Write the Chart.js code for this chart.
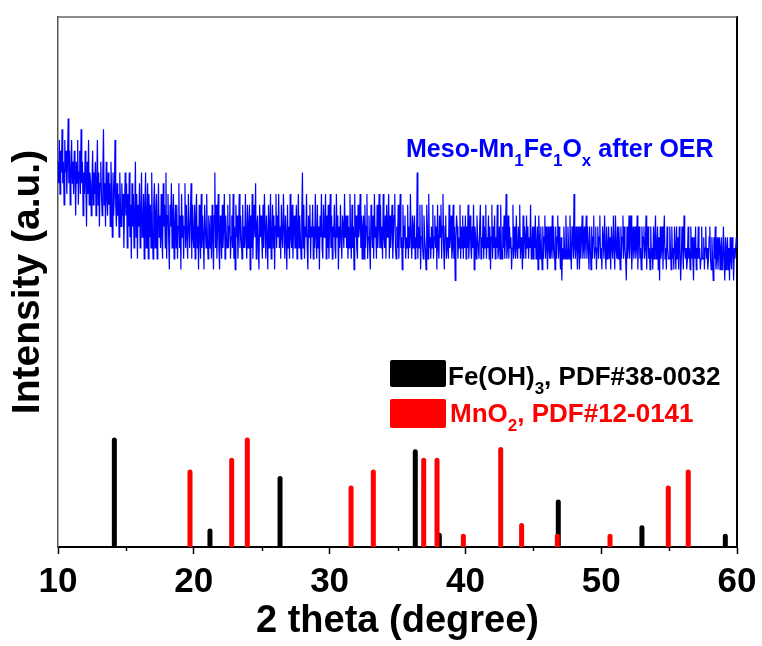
<!DOCTYPE html>
<html><head><meta charset="utf-8">
<script src="https://cdn.jsdelivr.net/npm/chart.js@4.4.0/dist/chart.umd.min.js"></script>
<style>html,body{margin:0;padding:0;background:#fff;overflow:hidden}#wrap{width:762px;height:646px}</style>
</head><body><div id="wrap"><canvas id="c" width="762" height="646"></canvas></div>
<script>
// ---- data ----
const twoThetaStart = 10;   // degrees
const twoThetaStep = 0.05;  // degrees per point
const intensity = [
36,34,38,33,37,35,39,34,36,32,38,35,37,33,36,40,34,37,32,35,38,34,36,33,37,
35,31,36,34,38,32,35,37,33,39,34,36,31,35,33,37,34,30,36,33,38,32,35,34,31,
34,37,32,35,33,36,31,34,38,32,35,30,34,36,33,31,35,39,32,34,30,36,33,31,35,
32,34,30,36,33,29,35,31,33,38,32,30,34,31,33,29,35,32,30,34,31,33,28,32,35,
31,34,28,33,30,35,29,32,27,34,30,33,28,31,36,29,33,27,32,30,34,28,31,35,29,
30,33,27,32,35,28,31,34,27,33,29,32,28,35,30,27,32,34,28,31,33,27,30,34,29,
31,28,33,29,27,34,30,32,28,35,27,31,33,29,26,32,30,34,28,31,33,27,30,32,28,
32,27,30,34,28,31,26,33,29,31,27,30,34,28,32,29,27,33,30,28,31,34,27,32,29,
28,32,27,31,33,28,30,26,32,29,27,33,28,31,29,26,32,30,28,33,29,27,31,30,28,
31,27,32,29,26,31,35,28,32,27,30,33,28,26,31,29,27,32,28,30,33,27,31,29,28,
32,28,30,33,27,29,31,28,33,27,30,26,32,29,31,27,30,33,28,31,29,27,32,28,30,
28,33,29,27,32,28,30,32,26,31,28,33,27,30,32,29,34,27,30,31,28,26,32,29,31,
29,27,32,28,33,30,27,31,29,26,32,28,30,33,27,29,32,28,31,26,30,33,28,31,29,
33,28,30,27,32,29,28,33,30,27,31,29,26,32,28,30,27,33,29,28,32,27,30,31,28,
28,32,27,30,33,28,31,29,27,31,35,28,32,27,30,29,33,28,26,31,29,32,27,30,29,
32,27,30,28,33,29,27,32,28,30,26,31,29,33,28,27,32,29,30,33,27,31,28,32,27,
30,33,28,31,27,30,29,32,28,27,33,29,31,26,30,28,32,29,27,31,30,28,33,29,31,
28,31,27,30,28,33,29,27,32,28,30,26,33,29,31,28,27,32,29,30,33,28,31,27,30,
31,27,32,28,30,33,27,29,31,28,26,32,30,28,31,27,33,29,30,27,32,28,30,33,28,
32,28,30,27,33,29,28,31,27,32,29,30,33,27,31,28,30,32,27,29,31,33,28,27,30,
28,32,27,30,33,28,29,26,32,28,30,31,27,29,28,32,27,30,28,33,29,27,31,28,30,
31,27,29,28,35,27,30,28,32,26,29,32,28,27,31,29,28,26,32,30,27,33,28,29,27,
30,28,32,27,29,31,28,30,26,32,28,27,31,29,32,27,30,33,28,26,30,31,27,29,28,
27,32,28,29,31,27,28,32,27,30,25,29,31,30,27,29,28,32,27,30,28,31,27,30,28,
31,27,30,28,32,27,29,31,28,27,30,28,32,26,30,29,27,31,29,28,27,30,32,27,29,
28,31,27,30,28,32,27,29,28,31,27,30,26,29,32,27,30,28,31,27,29,28,32,27,28,
30,27,32,28,27,30,28,31,27,29,33,27,28,31,27,30,28,29,26,28,32,27,30,28,27,
31,28,27,30,28,32,27,29,28,26,31,27,30,29,27,31,28,30,27,29,28,32,27,28,30,
27,30,28,31,27,28,30,26,31,29,27,30,28,26,30,27,29,31,27,30,28,26,30,28,27,
30,27,28,31,27,30,28,26,30,27,29,31,27,30,28,26,29,25,28,27,30,28,27,31,28,
27,30,28,27,31,28,26,30,29,27,33,28,27,30,28,26,30,28,26,30,27,29,31,27,28,
30,27,29,31,27,30,28,26,30,28,26,30,27,29,31,27,28,30,26,28,30,27,29,31,27,
28,26,30,29,27,31,28,26,30,27,28,30,27,29,26,30,28,27,31,28,26,31,28,27,30,
27,30,28,26,30,27,29,31,27,30,28,27,25,30,27,28,31,27,29,31,26,28,30,27,28,
30,27,28,31,26,29,30,27,28,26,30,27,29,30,27,28,31,26,29,30,27,28,26,30,27,
28,26,30,27,29,31,27,28,30,26,29,25,30,27,28,30,26,29,31,27,28,26,30,28,27,
27,30,28,26,30,27,28,26,30,28,26,30,27,29,26,30,28,25,27,30,28,26,31,28,27,
28,26,27,30,27,28,26,30,27,29,27,25,29,27,30,26,28,27,30,27,28,26,27,30,27,
27,29,26,28,30,27,28,26,27,29,30,27,26,29,27,25,29,27,30,26,27,29,26,28,29,
26,28,29,26,27,30,27,25,29,26,28,29,26,28,25,29,27,26,29,28,25,28,27,28,29,
28
];
const xTickValues = [10, 20, 30, 40, 50, 60];
const feOH3Pos = [14.15, 21.19, 26.35, 36.31, 38.08, 46.84, 53.00, 59.14];
const feOH3Int = [100, 15, 64, 89, 11, 42, 18, 10];
const mnO2Pos = [19.72, 22.79, 23.94, 31.58, 33.22, 36.93, 37.91, 39.85, 42.60, 44.14, 46.77, 50.65, 54.94, 56.41];
const mnO2Int = [70, 81, 100, 55, 70, 81, 81, 10, 91, 20, 10, 10, 55, 70];
const sampleLabel = [['Meso-Mn'], ['1', 'sub'], ['Fe'], ['1', 'sub'], ['O'], ['x', 'sub'], [' after OER']];
const feLabel = [['Fe(OH)'], ['3', 'sub'], [', PDF#38-0032']];
const mnLabel = [['MnO'], ['2', 'sub'], [', PDF#12-0141']];
const xTitle = '2 theta (degree)';
const yTitle = 'Intensity (a.u.)';

// ---- build datasets ----
const FONT = "'Liberation Sans', Arial, Helvetica, sans-serif";
const xrdPoints = intensity.map((v, i) => ({ x: +(twoThetaStart + i * twoThetaStep).toFixed(2), y: v }));
function sticks(pos, vals) {
  const out = [];
  pos.forEach((p, i) => { out.push({ x: p, y: 0 }, { x: p, y: vals[i] }, { x: p, y: null }); });
  return out;
}

function drawRich(ctx, parts, x, y, size, color) {
  ctx.save();
  ctx.fillStyle = color;
  ctx.textBaseline = 'alphabetic';
  ctx.textAlign = 'left';
  let cx = x;
  parts.forEach(([t, kind]) => {
    if (kind === 'sub') {
      ctx.font = 'bold ' + Math.round(size * 0.66) + 'px ' + FONT;
      ctx.fillText(t, cx, y + size * 0.36);
    } else {
      ctx.font = 'bold ' + size + 'px ' + FONT;
      ctx.fillText(t, cx, y);
    }
    cx += ctx.measureText(t).width;
  });
  ctx.restore();
}

const decor = {
  id: 'decor',
  afterDraw(chart) {
    const ctx = chart.ctx, a = chart.chartArea, xs = chart.scales.x;
    ctx.save();
    ctx.strokeStyle = '#666'; ctx.lineWidth = 1.5;
    ctx.beginPath(); ctx.moveTo(a.left, a.top); ctx.lineTo(a.right, a.top); ctx.stroke();
    ctx.strokeStyle = '#000'; ctx.lineWidth = 1.5;
    for (let v = 15; v < 60; v += 10) {
      const px = Math.round(xs.getPixelForValue(v)) + 0.5;
      ctx.beginPath(); ctx.moveTo(px, a.bottom); ctx.lineTo(px, a.bottom + 4); ctx.stroke();
    }
    ctx.fillStyle = '#000';
    ctx.beginPath(); ctx.roundRect(390, 360, 56, 27, 2); ctx.fill();
    ctx.fillStyle = '#FF0000';
    ctx.beginPath(); ctx.roundRect(390, 399, 56, 29, 2); ctx.fill();
    ctx.restore();
    drawRich(ctx, feLabel, 448, 385, 26, '#000');
    drawRich(ctx, mnLabel, 450, 422, 26, '#FF0000');
    drawRich(ctx, sampleLabel, 406, 157, 25, '#0000FF');
  }
};

new Chart(document.getElementById('c'), {
  type: 'line',
  data: {
    datasets: [
      { label: 'MnO2, PDF#12-0141', data: sticks(mnO2Pos, mnO2Int), yAxisID: 'y2', borderColor: '#FF0000',
        borderWidth: 5, borderCapStyle: 'round', pointRadius: 0, spanGaps: false, order: 0,
        clip: { left: 4, right: 4, top: 4, bottom: 0 } },
      { label: 'Fe(OH)3, PDF#38-0032', data: sticks(feOH3Pos, feOH3Int), yAxisID: 'y2', borderColor: '#000000',
        borderWidth: 5, borderCapStyle: 'round', pointRadius: 0, spanGaps: false, order: 1,
        clip: { left: 4, right: 4, top: 4, bottom: 0 } },
      { label: 'Meso-Mn1Fe1Ox after OER', data: xrdPoints, yAxisID: 'y', borderColor: '#0000FF',
        borderWidth: 1.2, pointRadius: 0, tension: 0, order: 2 }
    ]
  },
  options: {
    responsive: false,
    animation: false,
    devicePixelRatio: 1,
    layout: { padding: { left: 0, right: 25, top: 17, bottom: 0 } },
    plugins: { legend: { display: false }, tooltip: { enabled: false } },
    scales: {
      x: {
        type: 'linear', position: 'bottom', min: 10, max: 60,
        afterBuildTicks: (s) => { s.ticks = xTickValues.map(v => ({ value: v })); },
        ticks: { color: '#000', font: { family: FONT, size: 35, weight: 'bold', lineHeight: '49px' }, padding: 4, maxRotation: 0, autoSkip: false },
        grid: { display: true, drawOnChartArea: false, drawTicks: true, tickLength: 7, tickColor: '#000', tickWidth: 1.5 },
        border: { display: true, color: '#000', width: 2 },
        title: { display: true, text: xTitle, color: '#000', font: { family: FONT, size: 38, weight: 'bold', lineHeight: '20px' }, padding: { top: 1, bottom: 14 } }
      },
      y: {
        type: 'linear', position: 'left', min: 0.3, max: 49.4,
        ticks: { display: false },
        grid: { display: false, drawTicks: false },
        border: { display: true, color: '#555', width: 1.5 },
        title: { display: true, text: yTitle, color: '#000', font: { family: FONT, size: 39, weight: 'bold', lineHeight: 1 }, padding: { top: 9, bottom: 10 } }
      },
      y2: {
        type: 'linear', position: 'right', min: 0, max: 495,
        ticks: { display: false },
        grid: { display: false, drawTicks: false },
        border: { display: true, color: '#000', width: 2 }
      }
    }
  },
  plugins: [decor]
});
</script>
</body></html>
